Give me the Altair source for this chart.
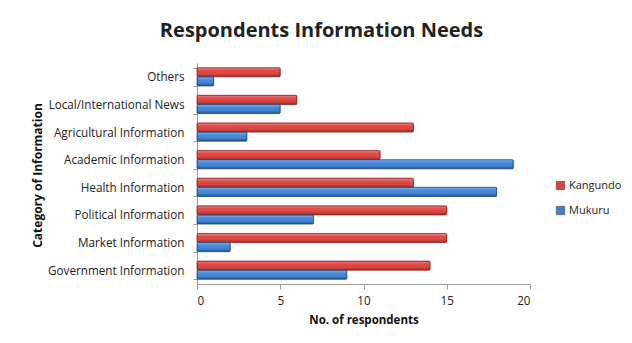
import altair as alt
import pandas as pd

categories = ["Others", "Local/International News", "Agricultural Information",
              "Academic Information", "Health Information", "Political Information",
              "Market Information", "Government Information"]
kangundo = [5, 6, 13, 11, 13, 15, 15, 14]
mukuru = [1, 5, 3, 19, 18, 7, 2, 9]
series = ["Kangundo", "Mukuru"]
colors = ["#D8433E", "#3F80CF"]
edge_colors = ["#8E2A27", "#264E80"]
grad_stops = {
    "Kangundo": ["#F58A86", "#E0504B", "#D8433E", "#9A2C29"],
    "Mukuru": ["#86BBF2", "#4C8CDA", "#3F80CF", "#25518C"],
}
x_ticks = [0, 5, 10, 15, 20]

rows = []
for c, k, m in zip(categories, kangundo, mukuru):
    rows.append({"cat": c, "series": "Kangundo", "value": k})
    rows.append({"cat": c, "series": "Mukuru", "value": m})
df = pd.DataFrame(rows)

FONT = "Open Sans"

y_enc = alt.Y("cat:N", sort=categories, scale=alt.Scale(paddingInner=0.34, paddingOuter=0.17),
              axis=alt.Axis(title="Category of Information", titleFontWeight="bold",
                            titleFontSize=12, titleFont=FONT, labelFont=FONT, labelFontSize=11.7,
                            labelColor="#222", titleColor="#111", domainColor="#999",
                            tickColor="#999", tickSize=4, tickBand="extent", labelPadding=9,
                            titleX=-160, titleY=112, titleAngle=-90, titleAlign="center",
                            titleBaseline="middle", labelBound=False))
yoff_enc = alt.YOffset("series:N", sort=series)
x_enc = alt.X("value:Q", scale=alt.Scale(domain=[0, 20]),
              axis=alt.Axis(values=x_ticks, title="No. of respondents",
                            titleFontWeight="bold", titleFontSize=11.5, titleFont=FONT,
                            labelFont=FONT, labelFontSize=11.7, labelColor="#222",
                            titleColor="#111", grid=False, domainColor="#999",
                            tickColor="#999", tickSize=5, labelPadding=6, titlePadding=8))

base = alt.Chart(df).mark_bar(strokeWidth=0.8, cornerRadius=1).encode(
    y=y_enc, yOffset=yoff_enc, x=x_enc,
    color=alt.Color("series:N", sort=series,
                    scale=alt.Scale(domain=series, range=colors),
                    legend=alt.Legend(title=None, orient="none", legendX=358, legendY=117,
                                      labelFont=FONT, labelFontSize=11, labelColor="#222",
                                      symbolType="square", symbolSize=70, rowPadding=13,
                                      labelOffset=3,
                                      symbolStrokeColor="#333", symbolStrokeWidth=0.5)),
)

layers = [base]
for s, edge in zip(series, edge_colors):
    st = grad_stops[s]
    grad = alt.Gradient(
        gradient="linear", x1=0, x2=0, y1=0, y2=1,
        stops=[alt.GradientStop(color=st[0], offset=0),
               alt.GradientStop(color=st[1], offset=0.3),
               alt.GradientStop(color=st[2], offset=0.7),
               alt.GradientStop(color=st[3], offset=1)],
    )
    layers.append(
        alt.Chart(df).transform_filter(alt.datum.series == s)
        .mark_bar(fill=grad, stroke=edge, strokeWidth=0.8, cornerRadius=1)
        .encode(y=y_enc, yOffset=yoff_enc, x=x_enc)
    )

chart = alt.layer(*layers).properties(
    width=333, height=221,
    background="white",
    title=alt.TitleParams("Respondents Information Needs", font=FONT, fontSize=20,
                          fontWeight="bold", color="#222", dx=-42, offset=17),
    padding={"left": 189, "top": 55, "right": 94, "bottom": 51},
    autosize=alt.AutoSizeParams(type="none"),
).configure_view(stroke="transparent", strokeWidth=0)

chart.save("out.html", embed_options={"renderer": "svg", "actions": False})
